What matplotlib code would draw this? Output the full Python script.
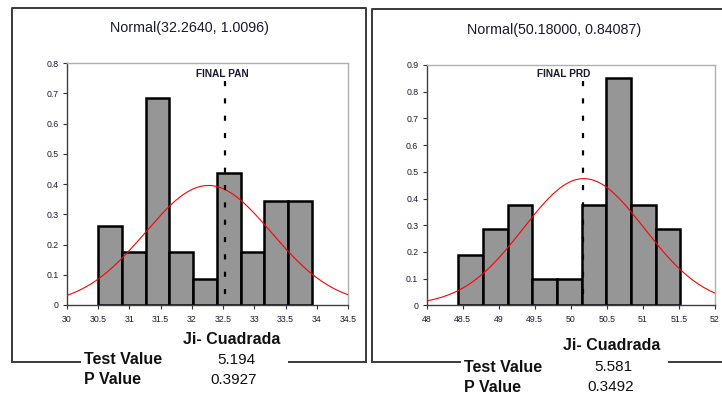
import numpy as np
import matplotlib
matplotlib.use('Agg')
import matplotlib.pyplot as plt
from matplotlib.lines import Line2D

plt.rcParams['font.family'] = ['Liberation Sans', 'DejaVu Sans']

W, H = 722, 394

# left panel: FINAL PAN
pan_mu, pan_sd = 32.2640, 1.0096
pan_lo, pan_w = 30.5, 0.38
pan_dens = [0.26, 0.175, 0.685, 0.175, 0.087, 0.435, 0.175, 0.345, 0.345]
pan_mark = 32.53
pan_xticks = [30, 30.5, 31, 31.5, 32, 32.5, 33, 33.5, 34, 34.5]
pan_yticks = [0, 0.1, 0.2, 0.3, 0.4, 0.5, 0.6, 0.7, 0.8]
pan_test, pan_p = '5.194', '0.3927'

# right panel: FINAL PRD
prd_mu, prd_sd = 50.18000, 0.84087
prd_lo, prd_w = 48.44, 0.342
prd_dens = [0.19, 0.285, 0.375, 0.097, 0.097, 0.375, 0.85, 0.375, 0.285]
prd_mark = 50.17
prd_xticks = [48, 48.5, 49, 49.5, 50, 50.5, 51, 51.5, 52]
prd_yticks = [0, 0.1, 0.2, 0.3, 0.4, 0.5, 0.6, 0.7, 0.8, 0.9]
prd_test, prd_p = '5.581', '0.3492'


def px(x, y):
    return x / W, 1 - y / H


def frame(fig, x0, x1, y0, y1, gap0, gap1, right=True):
    c = '#3a3a3a'
    kw = dict(color=c, lw=1.4, transform=fig.transFigure)
    xs = [x0, x0, x1]
    ys = [y1, y0, y0]
    if right:
        xs.append(x1)
        ys.append(y1)
    fx, fy = zip(*[px(a, b) for a, b in zip(xs, ys)])
    fig.add_artist(Line2D(fx, fy, **kw))
    for a, b in [(x0, gap0), (gap1, x1)]:
        (u0, v), (u1, _) = px(a, y1), px(b, y1)
        fig.add_artist(Line2D([u0, u1], [v, v], **kw))


def panel(fig, box, mu, sd, lo, w, dens, mark, mark_top, xticks, yticks):
    x0, x1, ytop, ybot = box
    ax = fig.add_axes([x0 / W, 1 - ybot / H, (x1 - x0) / W, (ybot - ytop) / H])
    edges = lo + w * np.arange(len(dens) + 1)
    ax.bar(edges[:-1], dens, width=w, align='edge', color='#969696',
           edgecolor='black', lw=1.8, zorder=2)
    xs = np.linspace(xticks[0], xticks[-1], 300)
    ax.plot(xs, np.exp(-0.5 * ((xs - mu) / sd) ** 2) / (sd * np.sqrt(2 * np.pi)),
            color='#ff0000', lw=0.8, zorder=3)
    ax.plot([mark, mark], [mark_top, 0], color='black', lw=1.6,
            linestyle=(0, (2.3, 5.5)), zorder=4)
    ax.set_xlim(xticks[0], xticks[-1])
    ax.set_ylim(yticks[0], yticks[-1])
    ax.set_xticks(xticks)
    ax.set_xticklabels(['%g' % t for t in xticks])
    ax.set_yticks(yticks)
    ax.set_yticklabels(['%g' % t for t in yticks])
    ax.tick_params(labelsize=6.3, length=3, width=0.8, colors='#303030',
                   labelcolor='#1a1a30', pad=3)
    ax.tick_params(axis='x', pad=4)
    for s in ['left', 'bottom']:
        ax.spines[s].set_color('#404040')
        ax.spines[s].set_linewidth(1.0)
    for s in ['top', 'right']:
        ax.spines[s].set_color('#b0b0b0')
        ax.spines[s].set_linewidth(1.0)
    return ax


fig = plt.figure(figsize=(W / 100, H / 100), dpi=100)

frame(fig, 12, 366, 8, 362, 80, 289)
frame(fig, 372, 724, 9, 362, 460, 669, right=False)

panel(fig, (67, 348, 63, 305), pan_mu, pan_sd, pan_lo, pan_w, pan_dens,
      pan_mark, 0.74, pan_xticks, pan_yticks)
panel(fig, (426.7, 715, 65, 305.3), prd_mu, prd_sd, prd_lo, prd_w, prd_dens,
      prd_mark, 0.84, prd_xticks, prd_yticks)

tc = '#1a1a2e'
fig.text(*px(189, 28), 'Normal(%.4f, %.4f)' % (pan_mu, pan_sd), ha='center',
         va='center', fontsize=10.3, color=tc)
fig.text(*px(554, 30), 'Normal(%.5f, %.5f)' % (prd_mu, prd_sd), ha='center',
         va='center', fontsize=10.3, color=tc)
fig.text(*px(222, 74), 'FINAL PAN', ha='center', va='center', fontsize=7.3,
         fontweight='bold', color=tc)
fig.text(*px(563.5, 74), 'FINAL PRD', ha='center', va='center', fontsize=7.3,
         fontweight='bold', color=tc)

for cx, ty, lx, vx, tv, pv in [(232, 339, 84, 236, pan_test, pan_p),
                               (612, 346, 464, 613, prd_test, prd_p)]:
    fig.text(*px(cx, ty), 'Ji- Cuadrada', ha='center', va='center',
             fontsize=11.5, fontweight='bold', color='#111111')
    fig.text(*px(lx, ty + 21), 'Test Value', ha='left', va='center',
             fontsize=11.5, fontweight='bold', color='#111111')
    fig.text(*px(lx, ty + 41), 'P Value', ha='left', va='center',
             fontsize=11.5, fontweight='bold', color='#111111')
    fig.text(*px(vx, ty + 21), tv, ha='center', va='center', fontsize=11,
             color='#111111')
    fig.text(*px(vx - 2, ty + 41), pv, ha='center', va='center', fontsize=11,
             color='#111111')

fig.savefig('out.png', dpi=100)
